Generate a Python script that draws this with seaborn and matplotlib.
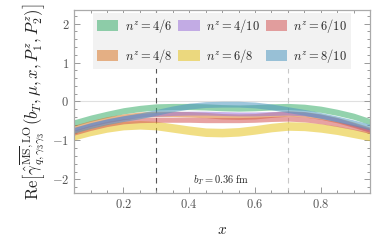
import numpy as np
import pandas as pd
import matplotlib
matplotlib.use("Agg")
import matplotlib.pyplot as plt
import seaborn as sns
from matplotlib.patches import Patch
from matplotlib.ticker import MultipleLocator, FuncFormatter

# momentum-pair labels and band colours
labels = ["4/6", "4/8", "4/10", "6/8", "6/10", "8/10"]
colors = ["#3aae6b", "#d9782a", "#9b72d9", "#e6c420", "#d45757", "#4f97c0"]

x_vals = [0.05, 0.10, 0.15, 0.20, 0.25, 0.30, 0.35, 0.40, 0.45, 0.50,
          0.55, 0.60, 0.65, 0.70, 0.75, 0.80, 0.85, 0.90, 0.95]

# central values
c_46 = [-0.55, -0.43, -0.33, -0.24, -0.18, -0.14, -0.13, -0.13, -0.14, -0.16,
        -0.17, -0.16, -0.14, -0.13, -0.15, -0.20, -0.28, -0.38, -0.52]
c_48 = [-0.68, -0.56, -0.46, -0.39, -0.34, -0.32, -0.32, -0.33, -0.35, -0.38,
        -0.39, -0.38, -0.34, -0.31, -0.33, -0.39, -0.48, -0.60, -0.73]
c_410 = [-0.72, -0.60, -0.50, -0.42, -0.36, -0.33, -0.31, -0.30, -0.30, -0.31,
         -0.32, -0.32, -0.31, -0.30, -0.32, -0.38, -0.47, -0.60, -0.74]
c_68 = [-0.88, -0.77, -0.68, -0.62, -0.60, -0.62, -0.68, -0.74, -0.79, -0.80,
        -0.78, -0.73, -0.67, -0.63, -0.64, -0.68, -0.74, -0.82, -0.90]
c_610 = [-0.80, -0.68, -0.58, -0.51, -0.48, -0.47, -0.47, -0.47, -0.48, -0.48,
         -0.48, -0.47, -0.45, -0.44, -0.46, -0.51, -0.58, -0.66, -0.76]
c_810 = [-0.74, -0.62, -0.52, -0.44, -0.37, -0.28, -0.19, -0.12, -0.08, -0.07,
         -0.07, -0.09, -0.14, -0.21, -0.28, -0.36, -0.45, -0.55, -0.66]

# half widths of the uncertainty bands
half_w = [0.08, 0.07, 0.05, 0.11, 0.065, 0.075]

centers = [c_46, c_48, c_410, c_68, c_610, c_810]

# long-form table: lower and upper edge per x, band = min..max
rows = []
for lab, cen, hw in zip(labels, centers, half_w):
    for xv, cv in zip(x_vals, cen):
        rows.append({"x": xv, "y": cv - hw, "nz": lab})
        rows.append({"x": xv, "y": cv + hw, "nz": lab})
df = pd.DataFrame(rows)

sns.set_theme(style="ticks")
plt.rcParams["mathtext.fontset"] = "cm"
plt.rcParams["font.family"] = ["DejaVu Serif"]

fig = plt.figure(figsize=(3.82, 2.43), dpi=100)
ax = fig.add_axes([0.194, 0.206, 0.775, 0.753])

ax.axhline(0, color="#e0e0e0", lw=0.8, zorder=0)
ax.axvline(0.3, color="#555555", lw=0.8, ls=(0, (5, 4)), zorder=0)
ax.axvline(0.7, color="#c8c8c8", lw=0.8, ls=(0, (5, 4)), zorder=0)

sns.lineplot(data=df, x="x", y="y", hue="nz", hue_order=labels,
             palette=colors, errorbar=("pi", 100), linewidth=0,
             err_kws={"alpha": 0.55, "linewidth": 0}, legend=False, ax=ax)

ax.set_xlim(0.05, 0.95)
ax.set_ylim(-2.35, 2.35)
ax.xaxis.set_major_locator(MultipleLocator(0.2))
ax.xaxis.set_minor_locator(MultipleLocator(0.05))
ax.yaxis.set_major_locator(MultipleLocator(1))
ax.yaxis.set_minor_locator(MultipleLocator(0.2))
ax.xaxis.set_major_formatter(FuncFormatter(lambda v, p: f"${v:.1f}$"))
ax.yaxis.set_major_formatter(FuncFormatter(lambda v, p: f"${v:.0f}$"))
ax.tick_params(which="both", direction="in", top=True, right=True,
               color="#999999", labelcolor="#555555", labelsize=9, width=0.7)
ax.tick_params(which="major", length=4)
ax.tick_params(which="minor", length=2)
for s in ax.spines.values():
    s.set_color("#aaaaaa")
    s.set_linewidth(0.9)

ax.set_xlabel(r"$x$", fontsize=11, color="#222222", labelpad=9)
ax.set_ylabel(r"$\mathrm{Re}\left[\hat{\gamma}^{\overline{\mathrm{MS}},\mathrm{LO}}"
              r"_{q,\gamma_3\gamma_3}(b_T,\mu,x,P_1^z,P_2^z)\right]$",
              fontsize=12, color="#222222", labelpad=3)

ax.text(0.41, -2.03, r"$b_T = 0.36\ \mathrm{fm}$", fontsize=7.5,
        color="#222222", va="center")

handles = [Patch(facecolor=c, alpha=0.55, edgecolor="none") for c in colors]
leg_labels = [rf"$n^z = {l}$" for l in labels]
# column-major fill: 4/6,4/8 | 4/10,6/8 | 6/10,8/10
leg = ax.legend(handles, leg_labels, ncol=3, loc="upper center",
                bbox_to_anchor=(0.5, 0.995), fontsize=9, frameon=True,
                facecolor="#f2f2f2", edgecolor="none", framealpha=1,
                fancybox=False, handlelength=1.7, handleheight=1.0,
                handletextpad=0.5, labelspacing=0.95, columnspacing=0.5,
                borderpad=0.3, borderaxespad=0.2)
leg.get_frame().set_linewidth(0)

fig.savefig("out.png", dpi=100)
